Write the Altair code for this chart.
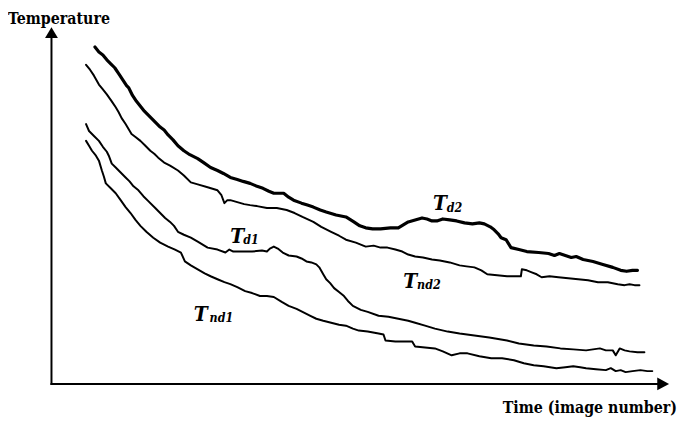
import altair as alt
import pandas as pd

# ---- data (time = image number units, temperature = arbitrary units) ----
td2_time = [44,48,52,56,60,64,68,72,76,78,82,86,90,94,98,102,106,110,114,118,123,128,134,140,148,154,161,168,174,181,188,194,201,208,214,220,225,230,235,240,245,253,259,265,272,278,288,298,306,312,318,325,333,343,351,356,361,368,375,380,385,390,396,403,410,418,426,433,438,444,448,452,455,460,465,473,481,493,503,509,514,520,526,531,538,548,558,568,576,582,588,593]
td2_temp = [341,336,333,328,324,320,314,308,302,300,292,286,281,276,272,268,264,260,257,252,247,241,236,232,228,224,219,216,213,209,207,205,203,200,198,195,193,193,193,189,186,183,181,179,176,174,171,169,164,160,158,157,157,158,158,161,164,166,168,167,165,165,167,166,165,163,162,163,162,159,156,152,148,146,138,136,134,133,132,130,132,130,128,129,126,124,121,118,115,114,115,115]

tnd2_time = [35,39,43,48,52,56,61,65,68,71,75,78,81,85,90,95,100,104,108,114,120,128,134,141,148,158,168,172,175,178,181,188,195,201,208,218,228,238,246,254,265,273,283,291,298,308,318,326,333,340,348,355,361,368,376,385,393,403,413,420,428,435,441,451,461,468,475,476,481,486,491,496,504,513,523,533,543,553,563,573,580,585,590,595]
tnd2_temp = [323,318,312,303,298,293,286,280,275,269,263,258,253,250,246,241,236,233,229,224,221,216,211,204,202,199,196,191,183,186,186,184,182,181,180,178,178,176,173,169,164,159,154,150,146,143,139,140,138,138,136,134,131,129,128,126,125,123,120,119,118,115,111,110,109,109,109,116,115,113,111,108,109,108,107,106,105,103,103,101,100,101,100,100]

td1_time = [35,38,43,48,52,56,58,61,65,70,75,79,83,88,93,98,105,110,115,120,124,128,134,141,148,153,158,168,176,180,184,193,203,213,218,221,225,229,234,240,248,253,258,263,268,271,275,278,282,286,291,296,300,305,313,320,331,341,351,361,368,378,388,401,413,428,443,461,473,488,501,515,528,541,548,555,561,568,571,575,580,585,593,600]
td1_temp = [263,256,251,246,240,235,231,223,219,214,209,205,200,196,190,185,178,173,168,164,160,154,151,148,144,141,138,136,133,136,134,134,134,135,134,137,139,137,133,130,129,127,124,123,121,118,111,106,102,97,93,89,84,79,75,73,69,68,66,64,62,59,56,53,51,49,47,44,41,39,38,36,35,34,35,36,34,34,29,36,34,33,32,32]

tnd1_time = [35,38,41,45,48,51,53,55,60,65,70,75,80,85,90,96,103,110,118,125,131,135,141,148,155,161,168,175,181,188,196,203,211,218,225,233,240,248,256,262,268,275,283,291,298,305,311,320,331,336,338,348,358,365,368,378,388,396,405,413,421,433,445,456,468,478,488,498,511,520,528,535,541,551,561,566,571,576,581,588,596,603,608]
tnd1_temp = [246,241,236,231,226,216,210,203,198,193,186,179,173,166,160,154,148,143,139,136,133,124,120,116,112,109,106,103,101,98,94,92,89,89,88,83,79,76,72,69,66,64,62,60,59,56,54,53,51,50,44,43,43,43,38,37,36,33,29,31,31,28,26,26,24,21,19,18,16,17,18,17,16,15,14,16,13,14,12,13,14,13,13]

series_names = ["d2", "nd2", "d1", "nd1"]

# ---- annotation positions (in data units) ----
label_T_time = [386, 356, 181, 144]
label_T_temp = [176, 97, 143, 64]
label_sub_time = [400, 370, 194, 160]
label_sub_temp = [174, 96, 142, 63]

SERIF = "DejaVu Serif Condensed"

xscale = alt.Scale(domain=[-44, 633], nice=False, zero=False)
yscale = alt.Scale(domain=[-34, 378], nice=False, zero=False)

def line_layer(t, v, w):
    df = pd.DataFrame({"time": t, "temp": v, "order": range(len(t))})
    return alt.Chart(df).mark_line(color="black", strokeWidth=w, strokeJoin="round", strokeCap="round").encode(
        x=alt.X("time:Q", scale=xscale, axis=None),
        y=alt.Y("temp:Q", scale=yscale, axis=None),
        order="order:Q",
    )

lines = [
    line_layer(td2_time, td2_temp, 3.2),
    line_layer(tnd2_time, tnd2_temp, 2.0),
    line_layer(td1_time, td1_temp, 2.0),
    line_layer(tnd1_time, tnd1_temp, 2.0),
]

# axes
axes_df = pd.DataFrame({"x": [0, -1], "y": [-1, 0], "x2": [0, 614], "y2": [352, 0]})
axes = alt.Chart(axes_df).mark_rule(color="black", strokeWidth=2).encode(
    x=alt.X("x:Q", scale=xscale, axis=None),
    y=alt.Y("y:Q", scale=yscale, axis=None),
    x2="x2:Q",
    y2="y2:Q",
)

up_df = pd.DataFrame({"x": [0], "y": [355.5]})
up_arrow = alt.Chart(up_df).mark_point(
    shape="M0,-1L-1.18,1L1.18,1Z", filled=True, size=121, color="black", opacity=1
).encode(x=alt.X("x:Q", scale=xscale, axis=None), y=alt.Y("y:Q", scale=yscale, axis=None))

right_df = pd.DataFrame({"x": [619], "y": [0]})
right_arrow = alt.Chart(right_df).mark_point(
    shape="M1,0L-1,-1.08L-1,1.08Z", filled=True, size=144, color="black", opacity=1
).encode(x=alt.X("x:Q", scale=xscale, axis=None), y=alt.Y("y:Q", scale=yscale, axis=None))

# axis titles
title_df = pd.DataFrame({"x": [-44], "y": [364], "text": ["Temperature"]})
ytitle = alt.Chart(title_df).mark_text(
    align="left", baseline="alphabetic", font=SERIF, fontWeight="bold", fontSize=16, color="black"
).encode(x=alt.X("x:Q", scale=xscale, axis=None), y=alt.Y("y:Q", scale=yscale, axis=None), text="text:N")

xt_df = pd.DataFrame({"x": [633], "y": [-29], "text": ["Time (image number)"]})
xtitle = alt.Chart(xt_df).mark_text(
    align="right", baseline="alphabetic", font=SERIF, fontWeight="bold", fontSize=16, color="black"
).encode(x=alt.X("x:Q", scale=xscale, axis=None), y=alt.Y("y:Q", scale=yscale, axis=None), text="text:N")

# curve labels
T_df = pd.DataFrame({"x": label_T_time, "y": label_T_temp, "text": ["T"] * 4})
T_labels = alt.Chart(T_df).mark_text(
    align="left", baseline="alphabetic", font=SERIF, fontWeight="bold", fontStyle="italic",
    fontSize=21, color="black"
).encode(x=alt.X("x:Q", scale=xscale, axis=None), y=alt.Y("y:Q", scale=yscale, axis=None), text="text:N")

sub_df = pd.DataFrame({"x": label_sub_time, "y": label_sub_temp, "text": series_names})
sub_labels = alt.Chart(sub_df).mark_text(
    align="left", baseline="alphabetic", font=SERIF, fontWeight="bold", fontStyle="italic",
    fontSize=12.5, color="black"
).encode(x=alt.X("x:Q", scale=xscale, axis=None), y=alt.Y("y:Q", scale=yscale, axis=None), text="text:N")

chart = alt.layer(
    axes, up_arrow, right_arrow, *lines, ytitle, xtitle, T_labels, sub_labels
).properties(
    width=677, height=412, padding=0, autosize=alt.AutoSizeParams(type="none"), background="white"
).configure_view(stroke=None)

chart.save("out.html", embed_options={"renderer": "svg", "actions": False})
